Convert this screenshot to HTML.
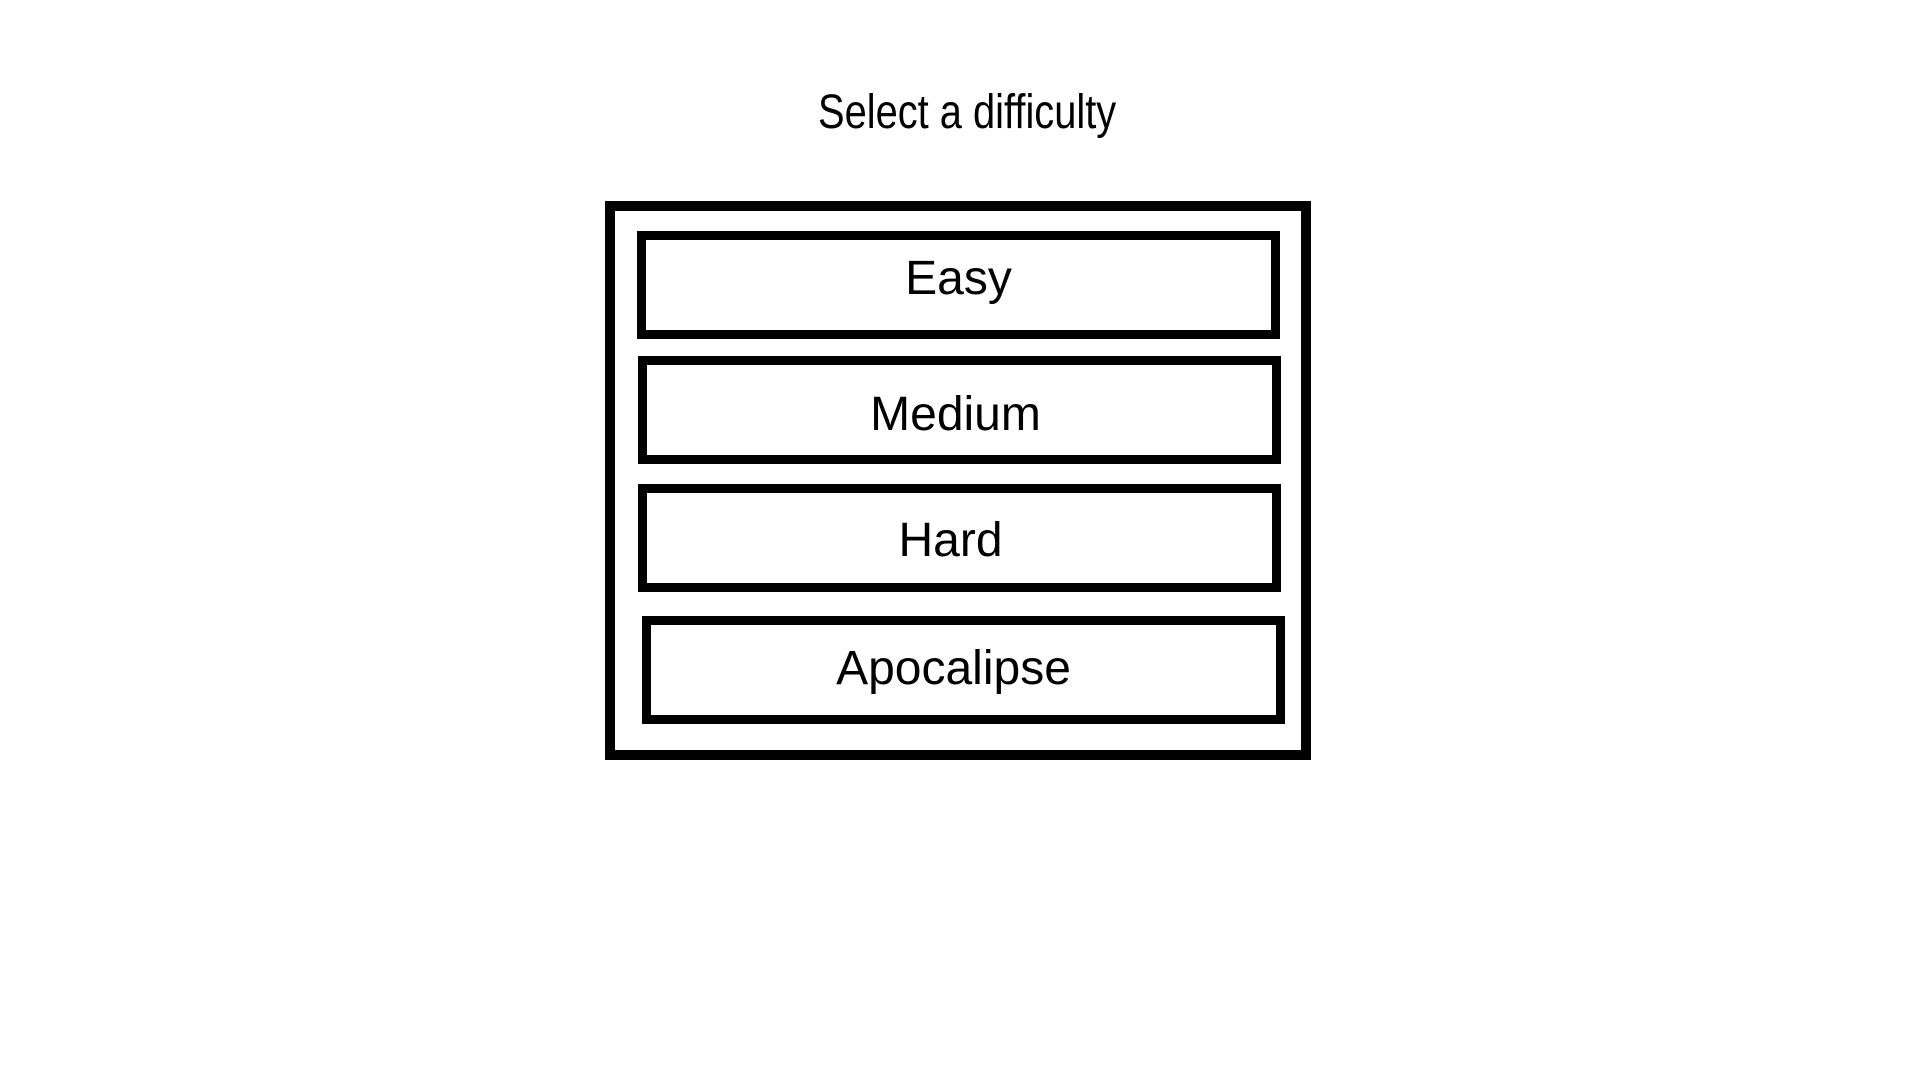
<!DOCTYPE html>
<html><head><style>
body{margin:0;width:1920px;height:1080px;background:#fff;position:relative;overflow:hidden;font-family:"Liberation Sans",sans-serif;color:#000}
.t{position:absolute;left:818px;top:85px;font-size:48px;line-height:56px;white-space:nowrap;transform:scaleX(0.83);transform-origin:0 0}
.o{position:absolute;left:605px;top:201px;width:686px;height:539px;border:10px solid #000}
.b{position:absolute;box-sizing:border-box;width:643px;height:108px;border:9px solid #000;font-size:48px;line-height:86px;text-align:center}
</style></head><body>
<div class="t">Select a difficulty</div>
<div class="o"></div>
<div class="b" style="left:637px;top:231px;line-height:78px">Easy</div>
<div class="b" style="left:638px;top:356px;padding-right:8px;line-height:100px">Medium</div>
<div class="b" style="left:638px;top:484px;padding-right:18px;line-height:96px">Hard</div>
<div class="b" style="left:642px;top:616px;padding-right:20px;line-height:88px">Apocalipse</div>
</body></html>
